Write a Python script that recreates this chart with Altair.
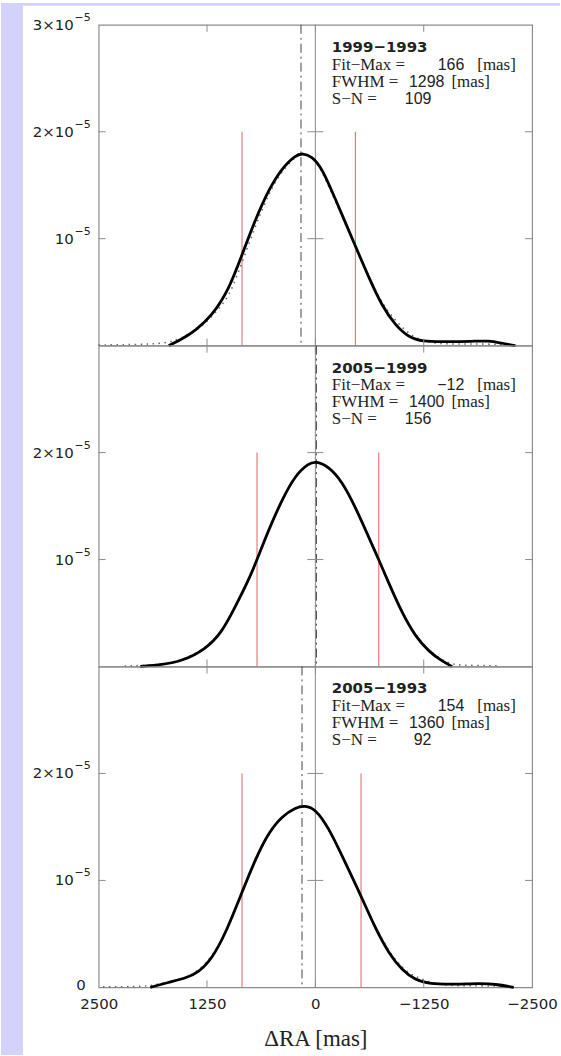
import altair as alt
import pandas as pd

# ---------------- data ----------------
panel_titles = ["1999−1993", "2005−1999", "2005−1993"]
fitmax_txt = ["166", "−12", "154"]
fwhm_txt = ["1298", "1400", "1360"]
sn_txt = ["109", "156", "92"]
fitmax_val = [166, -12, 154]
red_left = [846, 673, 846]
red_right = [-462, -731, -527]

# fitted (solid) curves, x in mas, y in units of 1e-5
fit1_x = [1692, 1538, 1385, 1192, 1000, 846, 692, 538, 385, 231, 146, 38, -77, -231, -462, -615, -769, -923, -1077, -1231, -1500, -1808, -2000, -2154, -2308]
fit1_y = [0, 0.062, 0.14, 0.28, 0.52, 0.85, 1.18, 1.46, 1.66, 1.78, 1.80, 1.77, 1.66, 1.37, 0.93, 0.64, 0.37, 0.19, 0.078, 0.037, 0.037, 0.04, 0.047, 0.022, 0]
fit2_x = [2019, 1769, 1538, 1269, 1077, 923, 769, 673, 538, 385, 231, 77, -8, -154, -308, -462, -615, -731, -846, -1000, -1154, -1308, -1461, -1577]
fit2_y = [0, 0.016, 0.05, 0.16, 0.32, 0.56, 0.81, 1.0, 1.28, 1.56, 1.79, 1.90, 1.92, 1.87, 1.73, 1.49, 1.21, 1.0, 0.78, 0.50, 0.28, 0.14, 0.05, 0]
fit3_x = [1904, 1692, 1500, 1346, 1192, 1038, 846, 692, 538, 385, 231, 123, 0, -154, -308, -519, -692, -846, -1000, -1154, -1308, -1615, -1885, -2077, -2288]
fit3_y = [0, 0.047, 0.084, 0.14, 0.27, 0.50, 0.89, 1.20, 1.45, 1.60, 1.68, 1.70, 1.67, 1.49, 1.23, 0.87, 0.55, 0.32, 0.16, 0.068, 0.031, 0.028, 0.037, 0.031, 0]

# observed (dotted) curves
obs1_x = [2500, 2300, 2100, 1900, 1750, 1650, 1550, 1400, 1250, 1100, 1000, 900, 800, 700, 600, 500, 385, 230, 146, 40, -80, -230, -460, -615, -770, -900, -1000, -1100, -1230, -1400, -1600, -1800, -2000, -2250]
obs1_y = [0.005, 0.008, 0.01, 0.015, 0.025, 0.04, 0.07, 0.13, 0.22, 0.36, 0.46, 0.66, 0.88, 1.10, 1.30, 1.48, 1.63, 1.77, 1.80, 1.77, 1.63, 1.35, 0.93, 0.65, 0.39, 0.26, 0.17, 0.10, 0.045, 0.02, 0.015, 0.015, 0.015, 0.008]
obs2_x = [2200, 2019, 1769, 1538, 1269, 1077, 923, 769, 673, 538, 385, 231, 77, -8, -154, -308, -462, -615, -731, -846, -1000, -1154, -1308, -1461, -1577, -1700, -1850, -2000, -2100]
obs2_y = [0.005, 0.008, 0.02, 0.055, 0.17, 0.32, 0.56, 0.80, 1.0, 1.28, 1.56, 1.79, 1.90, 1.92, 1.87, 1.73, 1.49, 1.22, 1.0, 0.79, 0.51, 0.29, 0.15, 0.06, 0.02, 0.012, 0.01, 0.008, 0.006]
obs3_x = [2450, 2200, 2000, 1900, 1700, 1500, 1380, 1300, 1192, 1038, 846, 692, 538, 385, 231, 123, 0, -154, -308, -519, -692, -846, -950, -1050, -1154, -1250, -1350, -1500, -1700, -1900, -2100, -2250]
obs3_y = [0.005, 0.006, 0.01, 0.015, 0.05, 0.09, 0.14, 0.20, 0.29, 0.49, 0.88, 1.19, 1.44, 1.60, 1.68, 1.70, 1.67, 1.48, 1.23, 0.87, 0.56, 0.34, 0.23, 0.15, 0.10, 0.07, 0.04, 0.02, 0.015, 0.015, 0.012, 0.008]

fit_x = [fit1_x, fit2_x, fit3_x]
fit_y = [fit1_y, fit2_y, fit3_y]
obs_x = [obs1_x, obs2_x, obs3_x]
obs_y = [obs1_y, obs2_y, obs3_y]

x_tick_values = [2500, 1250, 0, -1250, -2500]
inner_xticks = [1250, 0, -1250]
inner_yticks = [1, 2]
panel_yvalues = [[1, 2, 3], [1, 2], [0, 1, 2]]
y_label_base = {3: "3×10", 2: "2×10", 1: "10", 0: "0"}
y_label_sup = {3: "−5", 2: "−5", 1: "−5", 0: ""}
x_title = "ΔRA [mas]"
lbl_fit = "Fit−Max ="
lbl_fwhm = "FWHM ="
lbl_sn = "S−N ="
lbl_unit = "[mas]"

# ---------------- styling ----------------
W, H = 435, 322
LAV = "#d2d2fa"
FRAME = "#8c8c8c"
TXT = "#222222"

xscale = alt.Scale(domain=[-2500, 2500], reverse=True, nice=False, zero=False)
yscale = alt.Scale(domain=[0, 3], nice=False)
x_label_expr = "datum.value < 0 ? '−' + (-datum.value) : '' + datum.value"


def one(**cols):
    return pd.DataFrame(cols)


def make_panel(i):
    show_x = i == 2
    xaxis = alt.Axis(values=x_tick_values, labelExpr=x_label_expr, title=x_title,
                     ticks=False, tickSize=0, domain=False, grid=False,
                     labelFont="DejaVu Sans", labelFontSize=15, labelColor=TXT,
                     labelPadding=9, labelFlush=False, labelOverlap=False,
                     titleFont="Liberation Serif", titleFontSize=23,
                     titleFontWeight="normal", titleColor=TXT, titlePadding=16)

    def X(f):
        return alt.X(f"{f}:Q", scale=xscale, axis=xaxis if show_x else None)

    def Y(f):
        return alt.Y(f"{f}:Q", scale=yscale, axis=None)

    layers = []
    if i == 0:
        # page decoration: lavender strips on the left and top
        layers.append(alt.Chart(one(a=[0])).mark_rect(color=LAV).encode(
            x=alt.value(-98), x2=alt.value(-76), y=alt.value(-22), y2=alt.value(1034)))
        layers.append(alt.Chart(one(a=[0])).mark_rect(color=LAV).encode(
            x=alt.value(-98), x2=alt.value(463), y=alt.value(-22), y2=alt.value(-19)))

    # zero line
    layers.append(alt.Chart(one(x=[0])).mark_rule(color="#8a8a8a", strokeWidth=1).encode(
        x=X("x"), y=alt.value(0), y2=alt.value(H)))
    # fit max dash-dot line
    layers.append(alt.Chart(one(x=[fitmax_val[i]])).mark_rule(
        color="#444444", strokeWidth=1, strokeDash=[9, 4, 2, 4]).encode(
        x=X("x"), y=alt.value(0), y2=alt.value(H)))
    # FWHM red lines
    layers.append(alt.Chart(one(x=[red_left[i], red_right[i]], y0=[0, 0], y1=[2, 2])).mark_rule(
        color="#e77b7b", strokeWidth=1.2).encode(x=X("x"), y=Y("y0"), y2=alt.Y2("y1")))
    # observed dotted
    layers.append(alt.Chart(one(x=obs_x[i], y=obs_y[i])).mark_line(
        color="#6a6a6a", strokeWidth=1.6, strokeDash=[1.5, 4.5], interpolate="basis").encode(
        x=X("x"), y=Y("y")))
    # fitted solid
    layers.append(alt.Chart(one(x=fit_x[i], y=fit_y[i])).mark_line(
        color="black", strokeWidth=2.8, interpolate="basis").encode(
        x=X("x"), y=Y("y")))

    # inward ticks
    xt = one(x=inner_xticks)
    layers.append(alt.Chart(xt).mark_rule(color=FRAME, strokeWidth=1).encode(
        x=X("x"), y=alt.value(0), y2=alt.value(7)))
    layers.append(alt.Chart(xt).mark_rule(color=FRAME, strokeWidth=1).encode(
        x=X("x"), y=alt.value(H - 7), y2=alt.value(H)))
    yt = one(y=inner_yticks)
    layers.append(alt.Chart(yt).mark_rule(color=FRAME, strokeWidth=1).encode(
        y=Y("y"), x=alt.value(0), x2=alt.value(7)))
    layers.append(alt.Chart(yt).mark_rule(color=FRAME, strokeWidth=1).encode(
        y=Y("y"), x=alt.value(W - 7), x2=alt.value(W)))
    ct = one(y=inner_yticks, x=[0, 0])
    layers.append(alt.Chart(ct).mark_rule(color=FRAME, strokeWidth=1, xOffset=-8, x2Offset=8).encode(
        y=Y("y"), x=X("x"), x2=alt.X2("x")))

    # y tick labels (base + superscript exponent)
    yv = panel_yvalues[i]
    exp_vals = [v for v in yv if y_label_sup[v]]
    plain_vals = [v for v in yv if not y_label_sup[v]]
    if exp_vals:
        layers.append(alt.Chart(one(y=exp_vals, t=[y_label_base[v] for v in exp_vals])).mark_text(
            font="DejaVu Sans", fontSize=15, align="right", baseline="middle", color=TXT).encode(
            y=Y("y"), x=alt.value(-25), text="t:N"))
        layers.append(alt.Chart(one(y=exp_vals, t=[y_label_sup[v] for v in exp_vals])).mark_text(
            font="DejaVu Sans", fontSize=11, align="right", baseline="middle",
            dy=-7, color=TXT).encode(y=Y("y"), x=alt.value(-8), text="t:N"))
    if plain_vals:
        layers.append(alt.Chart(one(y=plain_vals, t=[y_label_base[v] for v in plain_vals])).mark_text(
            font="DejaVu Sans", fontSize=15, align="right", baseline="middle", dy=-2,
            color=TXT).encode(y=Y("y"), x=alt.value(-13), text="t:N"))

    # annotation text
    def txt(s, x, y, font, size, weight="normal", align="left"):
        return alt.Chart(one(t=[s])).mark_text(
            font=font, fontSize=size, fontWeight=weight, align=align,
            baseline="middle", color=TXT).encode(
            text="t:N", x=alt.value(x), y=alt.value(y))

    layers += [
        txt(panel_titles[i], 234, 22, "DejaVu Sans", 15, "bold"),
        txt(lbl_fit, 234, 40, "Liberation Serif", 17),
        txt(fitmax_txt[i], 367, 40, "Liberation Sans", 16, align="right"),
        txt(lbl_unit, 380, 40, "Liberation Serif", 17),
        txt(lbl_fwhm, 234, 57, "Liberation Serif", 17),
        txt(fwhm_txt[i], 347, 57, "Liberation Sans", 16, align="right"),
        txt(lbl_unit, 354, 57, "Liberation Serif", 17),
        txt(lbl_sn, 234, 74, "Liberation Serif", 17),
        txt(sn_txt[i], 334, 74, "Liberation Sans", 16, align="right"),
    ]
    return alt.layer(*layers).properties(width=W, height=H)


chart = alt.vconcat(make_panel(0), make_panel(1), make_panel(2),
                    spacing=0, bounds="flush").properties(
    padding=0, background="white"
).configure_view(stroke=FRAME, strokeWidth=1.2)

chart.save("out.html", embed_options={"renderer": "svg", "actions": False})
